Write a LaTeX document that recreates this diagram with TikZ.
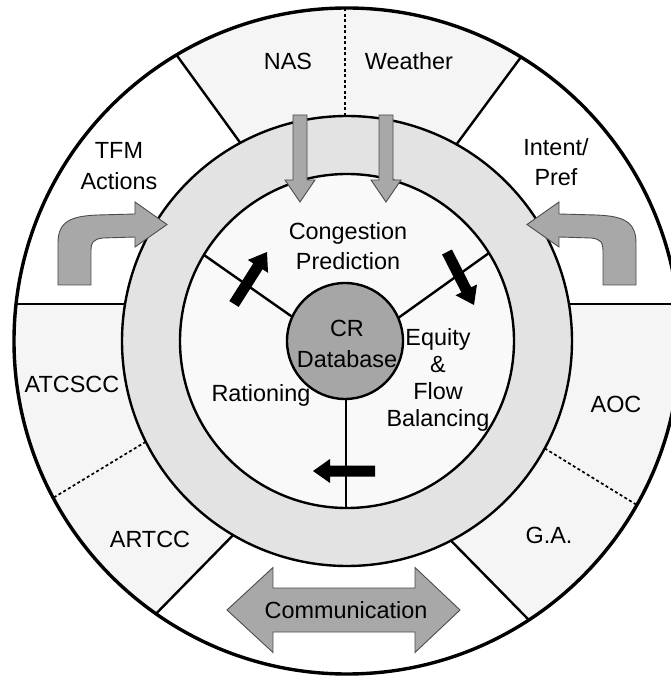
\documentclass[tikz,border=0pt]{standalone}
\usepackage{fontspec}
\setmainfont{Liberation Sans}
\definecolor{sectorgray}{gray}{0.96}
\definecolor{ringgray}{gray}{0.89}
\definecolor{diskgray}{gray}{0.975}
\definecolor{hubgray}{gray}{0.65}
\definecolor{arrowgray}{gray}{0.66}
\definecolor{arrowedge}{gray}{0.3}
% bent gray arrow (left one, mirrored for the right one)
\newcommand{\bentarrowpath}{(-289,56) -- (-289,98) .. controls (-289,119) and (-277,125) .. (-249,126) -- (-212,127) -- (-212,139) -- (-180,116.5) -- (-212,94) -- (-212,104) -- (-244,103) .. controls (-254,102) and (-256,98) .. (-256,91) -- (-256,56) -- cycle}
% black arrow: tail, angle, length
\newcommand{\blackarrow}[3]{\fill[shift={#1}, rotate=#2] (0,-5.5) -- (#3-17,-5.5) -- (#3-17,-12) -- (#3,0) -- (#3-17,12) -- (#3-17,5.5) -- (0,5.5) -- cycle;}
\begin{document}
\begin{tikzpicture}[x=1bp, y=1bp,
    txt/.style={inner sep=0pt, font=\fontsize{23.5}{30}\selectfont, align=center},
    divider/.style={line width=2.4bp},
    dotdivider/.style={line width=1.7bp, dash pattern=on 3bp off 2.5bp},
    grayarrow/.style={fill=arrowgray, draw=arrowedge, line width=0.9bp}]
    \useasboundingbox (-347,-338) rectangle (324,341);
    \clip (-347,-338) rectangle (324,341);
    % Outer ring and its sectors
    \fill[sectorgray] (0,0) circle[radius=333];
    \fill[white] (0,0) -- (-221.9,37) -- (173.62:333) arc[start angle=173.62, end angle=120.8, radius=333] -- (118.3:225) -- cycle;
    \fill[white] (0,0) -- (60.9:225) -- (58.5:333) arc[start angle=58.5, end angle=6.38, radius=333] -- (221.9,37) -- cycle;
    \fill[white] (0,0) -- (239.6:225) -- (235:333) arc[start angle=235, end angle=303.1, radius=333] -- (297.5:225) -- cycle;
    \draw[divider] (-221.9,37) -- (-330.9,37);
    \draw[divider] (221.9,37) -- (330.9,37);
    \foreach \a/\b in {118.3/120.8, 60.9/58.5, 239.6/235, 297.5/303.1}
        \draw[divider] (\a:225) -- (\b:333);
    \draw[dotdivider] (-2,225) -- (-2,333);
    \draw[dotdivider] (206.6:225) -- (208.1:333);
    \draw[dotdivider] (331.5:225) -- (330.5:333);
    \draw[line width=3.4bp] (0,0) circle[radius=333];
    % Gray ring and inner disk
    \draw[divider, fill=ringgray] (0,0) circle[radius=225];
    \draw[divider, fill=diskgray] (0,0) circle[radius=167];
    \draw[divider] (-46,18) -- (-143,86);
    \draw[divider] (47,20) -- (142,88);
    \draw[divider] (-1,-50) -- (-1,-167);
    % Hub
    \draw[divider, fill=hubgray] (-2,0) circle[radius=58];
    % Gray arrows
    \foreach \x in {-47,39}
        \draw[grayarrow] (\x-7,226) -- (\x+7,226) -- (\x+7,161) -- (\x+15,161) -- (\x,139) -- (\x-15,161) -- (\x-7,161) -- cycle;
    \draw[grayarrow] \bentarrowpath;
    \draw[grayarrow, xscale=-1] \bentarrowpath;
    \draw[grayarrow] (-120,-269) -- (-74,-226.5) -- (-74,-247) -- (68,-247) -- (68,-226.5) -- (113,-269) -- (68,-311.5) -- (68,-291) -- (-74,-291) -- (-74,-311.5) -- cycle;
    % Black arrows
    \blackarrow{(-113,37)}{57.6}{61.6}
    \blackarrow{(100,89)}{-63}{59.5}
    \blackarrow{(28,-130)}{180}{62}
    % Labels
    \node[txt, anchor=base] (nas) at (-59,271) {NAS};
    \node[txt, anchor=base] (weather) at (62,271) {Weather};
    \node[txt, anchor=north, font=\fontsize{23.5}{31.5}\selectfont] (tfm) at (-228,199) {TFM\\Actions};
    \node[txt, anchor=north] (intent) at (209,203) {Intent/\\Pref};
    \node[txt, anchor=north] (congestion) at (1,119) {Congestion\\Prediction};
    \node[txt, anchor=north, font=\fontsize{23.5}{31}\selectfont] (crdb) at (0,21) {CR\\Database};
    \node[txt, anchor=north, font=\fontsize{23.5}{27.3}\selectfont] (equity) at (91,13) {Equity\\\&\\Flow\\Balancing};
    \node[txt, anchor=base] (rationing) at (-86,-61) {Rationing};
    \node[txt, anchor=base] (atcscc) at (-275,-52) {ATCSCC};
    \node[txt, anchor=base] (artcc) at (-197,-206) {ARTCC};
    \node[txt, anchor=base] (aoc) at (269,-71) {AOC};
    \node[txt, anchor=base] (ga) at (202,-202) {G.A.};
    \node[txt, anchor=base] (comm) at (-1,-277) {Communication};
\end{tikzpicture}
\end{document}
